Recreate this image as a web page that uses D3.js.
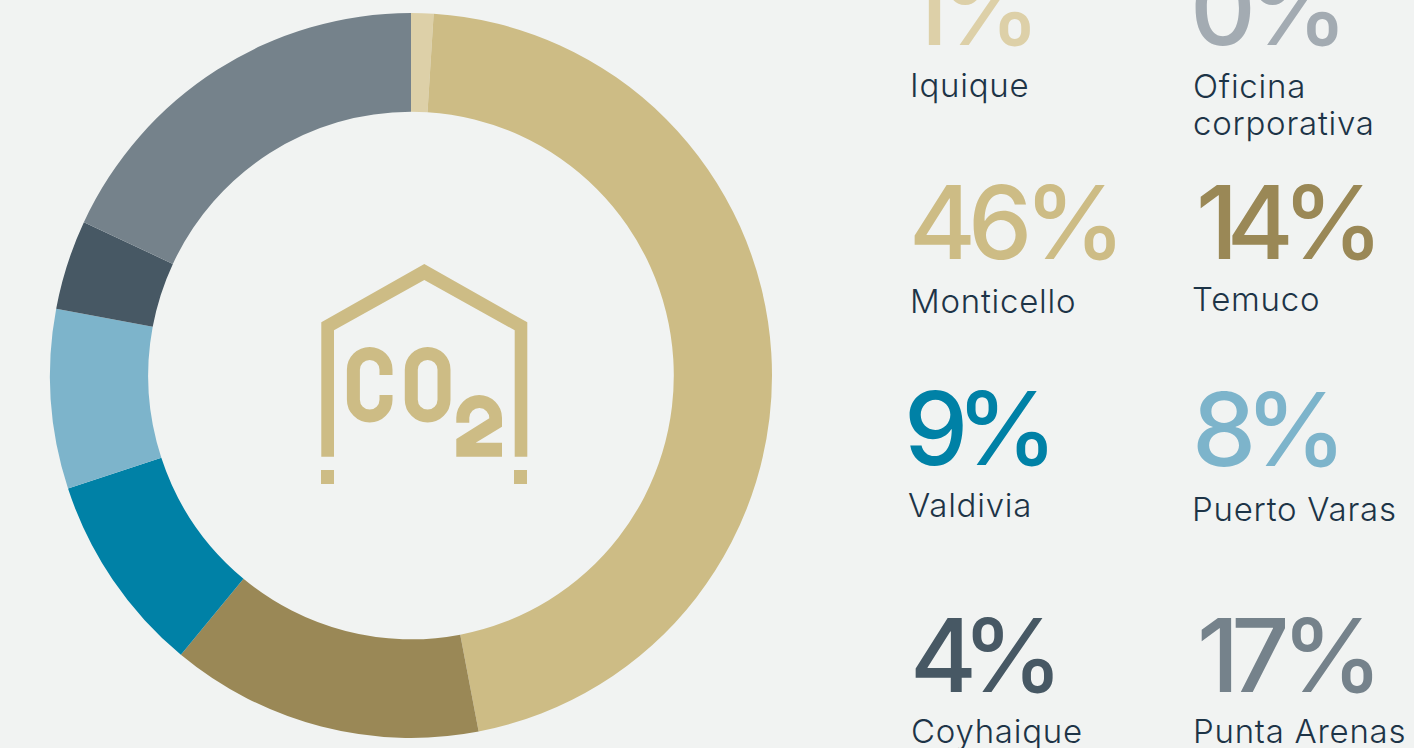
<!DOCTYPE html>
<html><head><meta charset="utf-8">
<script src="https://cdn.jsdelivr.net/npm/d3@7"></script>
<style>
html,body{margin:0;padding:0;background:#f1f3f2;overflow:hidden}
svg{display:block}
.pct{font-family:Inter,sans-serif;font-weight:500;font-size:102px}
.lab{font-family:Inter,sans-serif;font-weight:300;font-size:33px;letter-spacing:0.75px;fill:#1d3447}
</style></head><body>
<svg id="c" width="1414" height="748"></svg>
<script>
// Data
const sites = ["Iquique","Oficina corporativa","Monticello","Temuco","Valdivia","Puerto Varas","Coyhaique","Punta Arenas"];
const printedPercent = [1,0,46,14,9,8,4,17];
const sliceShare = [1,0,46,14,8.95,8,4,18.05];
const sliceColors = ["#ddd0a8","#a3abb2","#cdbc85","#9a8856","#0081a6","#7db4cb","#475864","#75828b"];

// Layout (separate from the data)
const pctAnchor = [[906,45],[1190,45],[909,259],[1196,259],[904,465],[1192,466],[910,692],[1197,692]];
const pctTracking = [-9,-9,-8,-11.5,-12,-11,-15,-8];
const labelAnchor = [[[910,97]],[[1193,98],[1193,135]],[[910,313]],[[1192,311]],[[908,517]],[[1192,521]],[[911,743]],[[1193,743]]];
const cx=411, cy=375.5, rOuter=361, rInner=262.8;

const svg=d3.select("#c");
const pie=d3.pie().sort(null).value(d=>d.share);
const arc=d3.arc().innerRadius(rInner).outerRadius(rOuter);
const rows=sites.map((s,i)=>({site:s,share:sliceShare[i],color:sliceColors[i]}));
svg.append("g").attr("transform",`translate(${cx},${cy}) scale(1,1.004)`)
  .selectAll("path").data(pie(rows)).join("path")
  .attr("d",arc).attr("fill",d=>d.data.color);

// Icon
const ic=svg.append("g").attr("fill","#cdbc85");
ic.append("path").attr("d","M321.3 456.7V322.3L424.3 264L527.3 322.3V456.7H514.7V330.3L424.3 280L334 330.3V456.7Z");
ic.append("rect").attr("x",321).attr("y",470).attr("width",13).attr("height",14);
ic.append("rect").attr("x",514).attr("y",470).attr("width",13).attr("height",14);
ic.append("path").attr("fill","none").attr("stroke","#cdbc85").attr("stroke-width",13)
  .attr("d","M386 375V369.7A16.3 16.3 0 0 0 353.4 369.7V399.7A16.3 16.3 0 0 0 386 399.7V395");
ic.append("rect").attr("fill","none").attr("stroke","#cdbc85").attr("stroke-width",13)
  .attr("x",411.3).attr("y",353.4).attr("width",32.7).attr("height",62.6).attr("rx",16.3);
ic.append("path").attr("d","M456.3 422.7V417.8A22.8 22.8 0 0 1 502 417.8V426.7L475.7 442.7H502V456.7H456.3V439L489.3 418.3A10 10 0 0 0 469.3 417.8V422.7Z");

// Percentages & labels
svg.selectAll("text.pct").data(printedPercent).join("text").attr("class","pct")
  .attr("x",(d,i)=>pctAnchor[i][0]).attr("y",(d,i)=>pctAnchor[i][1])
  .attr("letter-spacing",(d,i)=>pctTracking[i])
  .attr("fill",(d,i)=>sliceColors[i]).text(d=>d+"%");
const lines=["Iquique",["Oficina","corporativa"],"Monticello","Temuco","Valdivia","Puerto Varas","Coyhaique","Punta Arenas"];
lines.forEach((l,i)=>{[].concat(l).forEach((t,j)=>{
  svg.append("text").attr("class","lab").attr("x",labelAnchor[i][j][0]).attr("y",labelAnchor[i][j][1]).text(t);
});});
</script></body></html>
